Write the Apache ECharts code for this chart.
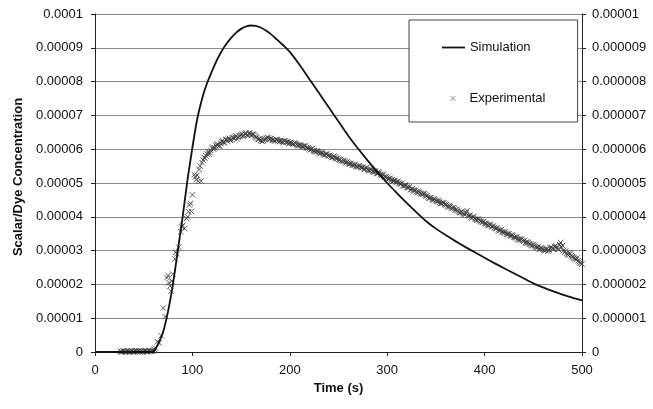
<!DOCTYPE html>
<html><head><meta charset="utf-8">
<script src="https://cdn.jsdelivr.net/npm/echarts@6/dist/echarts.min.js"></script>
<style>html,body{margin:0;padding:0;background:#fff}#c{width:653px;height:409px}</style>
</head><body><div id="c"></div>
<script>
// Concentrations are stored in units of 1e-6
const xTickLabels = ['0', '100', '200', '300', '400', '500'];
const leftTickLabels = ['0', '0.00001', '0.00002', '0.00003', '0.00004', '0.00005', '0.00006', '0.00007', '0.00008', '0.00009', '0.0001'];
const rightTickLabels = ['0', '0.000001', '0.000002', '0.000003', '0.000004', '0.000005', '0.000006', '0.000007', '0.000008', '0.000009', '0.00001'];

const simTime = [0, 20, 40, 55, 60, 65, 70, 75, 80, 85, 90, 95, 100, 105, 110, 115, 120, 125, 130, 135, 140, 145, 150, 155, 160, 165, 170, 175, 180, 185, 190, 195, 200, 210, 220, 230, 240, 250, 260, 270, 280, 290, 300, 310, 320, 330, 340, 350, 360, 370, 380, 390, 400, 410, 420, 430, 440, 450, 460, 470, 480, 490, 500];
const simConc = [0, 0, 0, 0, 0.1, 2.5, 6, 12, 20, 30, 40, 51, 60.5, 69, 75, 79.5, 83, 86.3, 89, 91.2, 93, 94.5, 95.6, 96.3, 96.6, 96.5, 96, 95.2, 94.2, 92.9, 91.6, 90.3, 88.8, 85, 80.8, 76.6, 72.4, 68.2, 64, 60.2, 56.6, 53.2, 50, 47, 44.1, 41.3, 38.7, 36.5, 34.6, 32.8, 31.1, 29.5, 27.9, 26.3, 24.8, 23.3, 21.8, 20.3, 19.1, 18, 17, 16.1, 15.3];

const expPointsEven = [
[26,0.2],[28,0.0],[30,0.3],[32,0.1],[34,0.2],[36,0.0],[38,0.3],[40,0.1],[42,0.4],[44,0.2],[46,0.0],[48,0.3],[50,0.2],[52,0.4],[54,0.1],[56,0.3],[58,0.2],[60,0.5],
[62,1.2],[64,3.0],[66,2.7],[68,4.8],[70,13.0],[72,10.5],[74,22.0],[76,20.5],[78,18.0],[80,23.0],[82,27.5],[84,29.0],[86,31.0],[88,35.5],[90,37.5],[92,36.5],[94,39.5],[96,41.5],[98,44.0],[100,46.5],
[102,52.5],[104,51.0],[106,50.5],[108,55.0],[110,56.0],[112,57.5],[114,58.0],[116,59.2],[118,59.0],[120,60.3],[122,60.0],[124,61.0],[126,61.5],[128,61.0],[130,62.3],[132,62.0],[134,62.8],[136,62.4],[138,63.2],[140,62.8],
[142,63.4],[144,63.6],[146,63.0],[148,63.8],[150,64.2],[152,63.9],[154,64.5],[156,64.2],[158,64.6],[160,64.3],[162,64.5],[164,63.9],[166,63.4],[168,62.9],[170,62.6],[172,62.3],[174,62.8],[176,63.2],[178,63.3],[180,63.0],
[182,62.8],[184,62.6],[186,62.9],[188,62.5],[190,62.4],[192,62.3],[194,62.5],[196,62.0],[198,62.1],[200,61.9],[202,61.8],[204,61.6],[206,61.7],[208,61.2],[210,61.3],[212,61.0],[214,60.7],[216,60.9],[218,60.3],[220,60.1],
[222,60.0],[224,59.6],[226,59.4],[228,59.5],[230,59.0],[232,58.9],[234,58.7],[236,58.3],[238,58.5],[240,58.0],[242,57.9],[244,57.6],[246,57.7],[248,57.2],[250,57.0],[252,56.9],[254,56.4],[256,56.5],[258,56.0],[260,55.9],
[262,55.6],[264,55.4],[266,55.5],[268,55.0],[270,54.8],[272,54.9],[274,54.5],[276,54.2],[278,54.4],[280,54.0],[282,53.6],[284,53.8],[286,53.2],[288,53.4],[290,52.8],[292,53.0],[294,52.2],[296,52.4],[298,51.7],[300,51.5],
[302,51.2],[304,51.0],[306,50.6],[308,50.8],[310,50.2],[312,50.0],[314,49.7],[316,49.2],[318,49.4],[320,48.8],[322,48.6],[324,48.0],[326,48.3],[328,47.7],[330,47.4],[332,47.6],[334,47.0],[336,46.6],[338,46.8],[340,46.1],
[342,45.8],[344,45.6],[346,45.2],[348,45.3],[350,44.8],[352,44.5],[354,44.3],[356,43.9],[358,44.1],[360,43.5],[362,43.2],[364,43.3],[366,42.6],[368,42.8],[370,42.0],[372,41.9],[374,41.3],[376,41.5],[378,41.0],[380,40.6],
[382,41.8],[384,40.2],[386,39.8],[388,39.9],[390,39.4],[392,39.0],[394,39.2],[396,38.7],[398,38.3],[400,38.0],[402,37.9],[404,37.4],[406,37.6],[408,37.0],[410,36.8],[412,36.5],[414,36.1],[416,36.0],[418,35.6],[420,35.3],
[422,35.1],[424,34.8],[426,34.5],[428,34.6],[430,34.0],[432,33.8],[434,33.5],[436,33.1],[438,33.3],[440,32.7],[442,32.4],[444,32.6],[446,32.0],[448,31.6],[450,31.8],[452,31.2],[454,30.9],[456,30.6],[458,30.8],[460,30.4],
[462,30.0],[464,30.5],[466,30.2],[468,31.0],[470,30.6],[472,31.2],[474,30.8],[476,30.3],[478,32.4],[480,31.5],[482,29.5],[484,29.2],[486,28.6],[488,29.0],[490,28.2],[492,27.8],[494,27.3],[496,27.0],[498,26.4],[500,26.0]
];

const expPointsOdd = [
[27,0.1],[29,0.3],[31,0.0],[33,0.4],[35,0.1],[37,0.2],[39,0.0],[41,0.3],[43,0.1],[45,0.3],[47,0.2],[49,0.0],[51,0.3],[53,0.1],[55,0.4],[57,0.2],[59,0.3],[61,0.8],
[75,22.6],[77,19.5],[79,21.0],[83,29.5],[89,37.0],[95,40.0],[97,43.5],[99,41.6],
[103,51.8],[105,52.3],[107,54.0],[109,50.6],[111,56.8],[113,57.4],[115,58.6],[117,58.5],[119,59.6],[121,60.6],[123,60.4],[125,61.3],[127,60.9],[129,61.8],[131,62.6],[133,61.8],[135,62.9],[137,63.0],[139,62.6],
[141,63.5],[143,63.1],[145,63.9],[147,63.5],[149,64.0],[151,64.6],[153,64.1],[155,64.8],[157,64.0],[159,64.9],[161,64.1],[163,64.3],[165,63.6],[167,63.0],[169,63.1],[171,62.4],[173,62.6],[175,63.0],[177,63.5],[179,62.9],
[181,63.2],[183,62.7],[185,62.4],[187,62.8],[189,62.2],[191,62.6],[193,62.0],[195,62.4],[197,62.2],[199,61.7],[201,62.0],[203,61.5],[205,61.9],[207,61.4],[209,61.0],[211,61.2],[213,60.8],[215,61.0],[217,60.5],[219,60.4],
[221,59.8],[223,60.2],[225,59.5],[227,59.2],[229,59.3],[231,58.7],[233,59.0],[235,58.4],[237,58.6],[239,58.1],[241,58.2],[243,57.5],[245,57.9],[247,57.4],[249,57.3],[251,56.8],[253,56.6],[255,56.7],[257,56.2],[259,56.3],
[261,55.7],[263,55.8],[265,55.2],[267,55.3],[269,54.9],[271,55.1],[273,54.6],[275,54.7],[277,54.0],[279,54.6],[281,53.8],[283,54.1],[285,53.5],[287,53.6],[289,52.9],[291,53.3],[293,52.5],[295,52.6],[297,51.9],[299,51.9],
[301,51.3],[303,51.4],[305,50.9],[307,50.6],[309,50.4],[311,50.5],[313,49.8],[315,49.9],[317,49.1],[319,49.3],[321,48.6],[323,48.9],[325,48.2],[327,47.9],[329,47.9],[331,47.2],[333,47.3],[335,46.8],[337,46.9],[339,46.4],
[341,46.3],[343,45.5],[345,45.7],[347,44.9],[349,45.1],[351,44.6],[353,44.8],[355,44.0],[357,44.2],[359,43.7],[361,43.6],[363,42.9],[365,43.0],[367,42.5],[369,42.4],[371,42.2],[373,41.6],[375,41.2],[377,41.3],[379,40.8],
[381,41.2],[383,40.4],[385,40.5],[387,39.6],[389,40.1],[391,39.2],[393,39.4],[395,38.9],[397,38.5],[399,38.6],[401,38.1],[403,37.6],[405,37.8],[407,37.2],[409,37.3],[411,36.6],[413,36.7],[415,35.9],[417,36.2],[419,35.4],
[421,35.6],[423,34.9],[425,35.0],[427,34.3],[429,34.4],[431,33.9],[433,34.1],[435,33.3],[437,33.5],[439,32.9],[441,33.0],[443,32.2],[445,32.3],[447,31.9],[449,31.4],[451,31.5],[453,31.0],[455,31.1],[457,30.4],[459,30.6],
[461,30.1],[463,30.3],[465,29.8],[467,30.7],[469,30.9],[471,30.4],[473,31.5],[475,30.5],[477,31.8],[479,31.0],[481,30.0],[483,29.8],[485,28.9],[487,29.3],[489,28.5],[491,28.0],[493,27.6],[495,27.8],[497,26.7],[499,26.2]
];

const crossPath = 'path://M0,0L10,10M10,0L0,10';
const font = "'Liberation Sans', Arial, sans-serif";
const txt = '#111';
const fs = 13;

const chart = echarts.init(document.getElementById('c'), null, {renderer: 'canvas'});
chart.setOption({
  animation: false,
  backgroundColor: '#fff',
  textStyle: {fontFamily: font, color: txt},
  grid: {left: 95, right: 71, top: 14, bottom: 57, containLabel: false},
  legend: [
    {
      data: ['Simulation'], left: 409, top: 20, orient: 'vertical',
      padding: [21, 47, 68, 32], itemWidth: 23, itemHeight: 14,
      backgroundColor: '#fff', borderColor: '#444', borderWidth: 1,
      itemStyle: {color: 'rgba(0,0,0,0)', borderColor: 'rgba(0,0,0,0)', borderWidth: 0},
      lineStyle: {color: '#111', width: 1.8},
      selectedMode: false, textStyle: {fontSize: fs, color: txt, fontFamily: font}
    },
    {
      data: [{name: 'Experimental', icon: crossPath}], left: 450, top: 92, orient: 'vertical',
      padding: 0, itemWidth: 23, itemHeight: 5, z: 10,
      itemStyle: {color: 'rgba(0,0,0,0)', borderColor: '#777', borderWidth: 1},
      selectedMode: false, textStyle: {fontSize: fs, color: txt, fontFamily: font}
    }
  ],
  xAxis: {
    type: 'value', min: 0, max: 500, interval: 100,
    name: 'Time (s)', nameLocation: 'middle', nameGap: 28,
    nameTextStyle: {fontWeight: 'bold', fontSize: fs, color: txt},
    axisLine: {show: true, lineStyle: {color: '#222', width: 1}},
    axisTick: {show: true, inside: false, length: 4, lineStyle: {color: '#222'}},
    splitLine: {show: false},
    axisLabel: {fontSize: fs, color: txt, margin: 12, formatter: v => xTickLabels[Math.round(v / 100)]}
  },
  yAxis: [
    {
      type: 'value', min: 0, max: 100, interval: 10, position: 'left',
      name: 'Scalar/Dye Concentration', nameLocation: 'middle', nameGap: 70,
      nameTextStyle: {fontWeight: 'bold', fontSize: fs, color: txt, padding: [0, 0, 0, 12]},
      axisLine: {show: true, lineStyle: {color: '#222', width: 1}},
      axisTick: {show: true, inside: false, length: 4, lineStyle: {color: '#222'}},
      splitLine: {show: true, lineStyle: {color: '#8a8a8a', width: 1}},
      axisLabel: {fontSize: fs, color: txt, margin: 12, formatter: v => leftTickLabels[Math.round(v / 10)]}
    },
    {
      type: 'value', min: 0, max: 100, interval: 10, position: 'right',
      axisLine: {show: true, lineStyle: {color: '#222', width: 1}},
      axisTick: {show: true, inside: false, length: 4, lineStyle: {color: '#222'}},
      splitLine: {show: false},
      axisLabel: {fontSize: fs, color: txt, margin: 10, formatter: v => rightTickLabels[Math.round(v / 10)]}
    }
  ],
  series: [
    {
      name: 'Simulation', type: 'line', yAxisIndex: 0,
      data: simTime.map((t, i) => [t, simConc[i]]),
      smooth: 0.2, symbol: 'none', showSymbol: false,
      lineStyle: {color: '#111', width: 1.8}, itemStyle: {color: '#111'}, z: 3
    },
    {
      name: 'Experimental', type: 'scatter', yAxisIndex: 0,
      data: expPointsEven.concat(expPointsOdd),
      symbol: crossPath, symbolSize: 5.5,
      itemStyle: {color: 'rgba(0,0,0,0)', borderColor: '#3a3a3a', borderWidth: 1}, z: 2
    }
  ]
});
</script>
</body></html>
